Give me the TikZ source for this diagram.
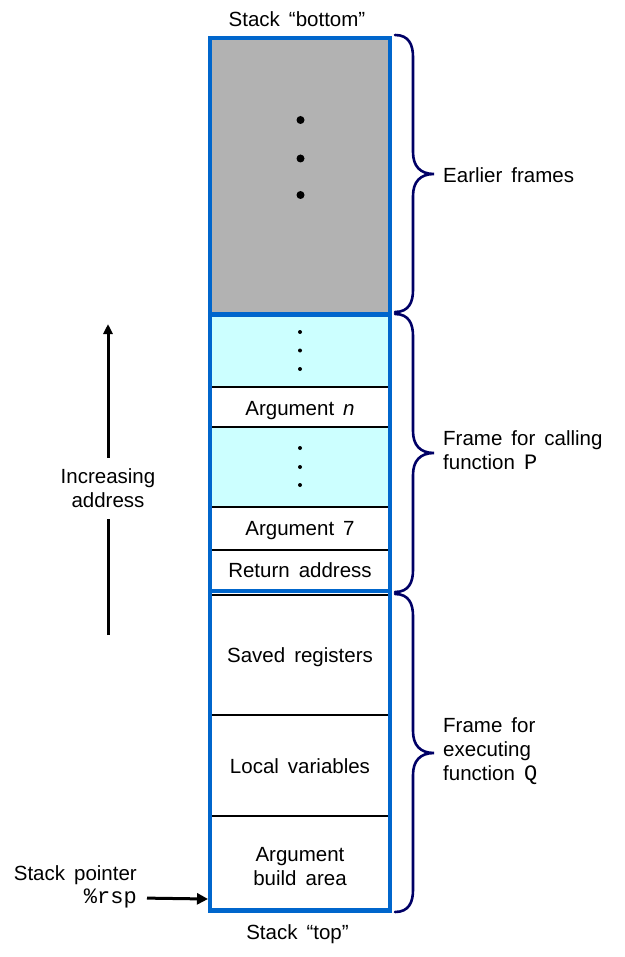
\documentclass[tikz,border=0pt]{standalone}
\usepackage{fontspec}
\setmainfont{Liberation Sans}
\setmonofont{Liberation Mono}
\usetikzlibrary{arrows.meta}
\definecolor{frameblue}{RGB}{0,102,204}
\definecolor{stackgray}{RGB}{178,178,178}
\definecolor{argcyan}{RGB}{204,255,255}
\definecolor{bracenavy}{RGB}{0,0,102}
\newcommand\diagfont{\fontsize{20.5}{24}\selectfont\setlength{\spaceskip}{9pt plus 2pt minus 1pt}}
\newcommand\codetxt[1]{{\fontsize{22}{24}\selectfont\ttfamily #1}}
\newcommand\framebrace[3]{%
  \draw[brc] (395,#1) .. controls (409,#1) and (413,#1+10) .. (413,#1+22)
    -- (413,#2-22) .. controls (413,#2-8) and (420,#2) .. (434,#2)
    .. controls (420,#2) and (413,#2+8) .. (413,#2+22)
    -- (413,#3-22) .. controls (413,#3-10) and (409,#3) .. (395,#3);}
\begin{document}
\begin{tikzpicture}[x=1pt,y=-1pt,
  every node/.style={font=\diagfont, inner sep=0pt},
  thinline/.style={line width=1.3pt, black},
  blueline/.style={line width=4.5pt, frameblue},
  brc/.style={line width=2.6pt, bracenavy, line cap=round},
  bigdot/.style={fill=black},
  uparrow/.style={line width=3pt, -{Triangle[length=10pt,width=9pt]}},
  ptrarrow/.style={line width=3pt, -{Triangle[length=11pt,width=11pt]}}]
\useasboundingbox (0,0) rectangle (624,957);
% fills
\fill[stackgray] (210,38) rectangle (390,314.5);
\fill[argcyan] (210,314.5) rectangle (390,387);
\fill[argcyan] (210,427) rectangle (390,507);
% dots
\foreach \yy in {120,158.5,195} \fill[bigdot] (300.5,\yy) circle (4);
\foreach \yy in {332,350.5,369,448,467,485} \fill[bigdot] (300,\yy) circle (2);
% thin separators
\foreach \yy in {387,427,507,550,595,715,816} \draw[thinline] (210,\yy) -- (390,\yy);
% blue frame
\draw[blueline] (210,38) rectangle (390,910.5);
\draw[blueline] (210,314.5) -- (390,314.5);
\draw[blueline] (210,591) -- (390,591);
% cell texts
\node[anchor=base] (argn) at (300,415) {Argument \textit{n}};
\node[anchor=base] (arg7) at (300,535) {Argument 7};
\node[anchor=base] (retaddr) at (300,577) {Return address};
\node[anchor=base] (saved) at (300,662.3) {Saved registers};
\node[anchor=base] (locals) at (300,773.3) {Local variables};
\node[align=center] (build) at (300,867) {Argument\\build area};
% titles
\node[anchor=base] (bottom) at (297,26.7) {Stack “bottom”};
\node[anchor=base] (top) at (297.5,939) {Stack “top”};
% braces
\framebrace{35}{174}{312}
\framebrace{314}{453}{592}
\framebrace{594}{753}{912}
\node[anchor=base west] (earlier) at (443,182.7) {Earlier frames};
\node[anchor=west, align=left] (framep) at (443,450) {Frame for calling\\function \codetxt{P}};
\node[anchor=west, align=left] (frameq) at (443,751) {Frame for\\executing\\function \codetxt{Q}};
% increasing address
\node[align=center, inner xsep=0pt, inner ysep=11pt] (incr) at (108,488.6) {Increasing\\address};
\coordinate (arrtop) at (108,324);
\coordinate (arrbot) at (108,635);
\draw[line width=3pt] (arrbot) -- (incr.south);
\draw[uparrow] (incr.north) -- (arrtop);
% stack pointer
\node[anchor=base east] (sp) at (137,880) {Stack pointer};
\node[anchor=base east] (rsp) at (137,903) {\codetxt{\%rsp}};
\coordinate (sptarget) at (208,899);
\draw[ptrarrow, shorten <=10pt] (rsp.east) -- (sptarget);
\end{tikzpicture}
\end{document}
